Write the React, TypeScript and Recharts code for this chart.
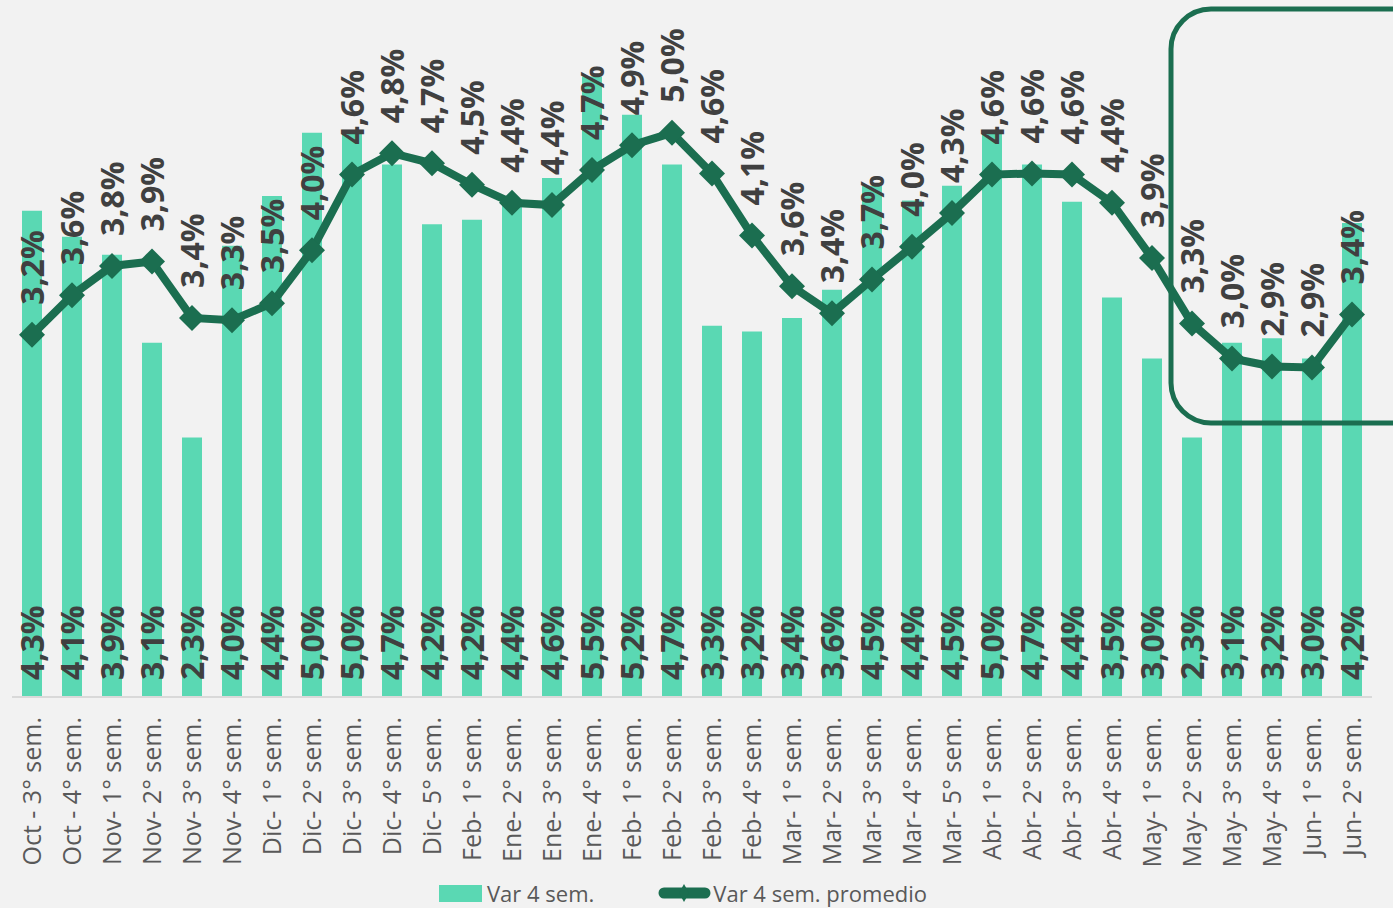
import React from 'react';
import { ComposedChart, Bar, Line, XAxis, YAxis, LabelList, Legend } from 'recharts';

const weeks = [
  'Oct - 3° sem.', 'Oct - 4° sem.', 'Nov- 1° sem.', 'Nov- 2° sem.', 'Nov- 3° sem.', 'Nov- 4° sem.',
  'Dic- 1° sem.', 'Dic- 2° sem.', 'Dic- 3° sem.', 'Dic- 4° sem.', 'Dic- 5° sem.', 'Feb- 1° sem.',
  'Ene- 2° sem.', 'Ene- 3° sem.', 'Ene- 4° sem.', 'Feb- 1° sem.', 'Feb- 2° sem.', 'Feb- 3° sem.',
  'Feb- 4° sem.', 'Mar- 1° sem.', 'Mar- 2° sem.', 'Mar- 3° sem.', 'Mar- 4° sem.', 'Mar- 5° sem.',
  'Abr- 1° sem.', 'Abr- 2° sem.', 'Abr- 3° sem.', 'Abr- 4° sem.', 'May- 1° sem.', 'May- 2° sem.',
  'May- 3° sem.', 'May- 4° sem.', 'Jun- 1° sem.', 'Jun- 2° sem.',
];

// Var 4 sem. (bars)
const var4 = [
  4.31, 4.08, 3.92, 3.14, 2.3, 4.0, 4.44, 5.0, 5.0, 4.72, 4.19, 4.23, 4.4, 4.6, 5.5, 5.16, 4.72,
  3.29, 3.24, 3.36, 3.61, 4.53, 4.4, 4.53, 5.0, 4.72, 4.39, 3.54, 3.0, 2.3, 3.14, 3.18, 3.0, 4.2,
];

// Var 4 sem. promedio (line)
const var4Prom = [
  3.21, 3.56, 3.82, 3.86, 3.36, 3.34, 3.49, 3.96, 4.63, 4.82, 4.73, 4.54, 4.38, 4.36, 4.67, 4.89, 5.0,
  4.64, 4.09, 3.64, 3.4, 3.7, 3.99, 4.29, 4.63, 4.64, 4.63, 4.38, 3.89, 3.31, 3.0, 2.93, 2.92, 3.39,
];

const data = weeks.map((w, i) => ({ idx: i, week: w, var4: var4[i], prom: var4Prom[i] }));

const BAR_COLOR = '#5ad8b3';
const LINE_COLOR = '#1b6e50';
const LABEL_COLOR = '#404040';
const FONT = '"Open Sans", sans-serif';

const pct = (v: number) => v.toFixed(1).replace('.', ',') + '%';

const BarLabel = (props: any) => {
  const { x, y, width, height, value } = props;
  const cx = x + width / 2;
  const base = y + height - 17;
  return (
    <text x={cx} y={base} dy="0.36em" transform={`rotate(-90, ${cx}, ${base})`} textAnchor="start"
      fontFamily={FONT} fontWeight={700} fontSize={32} fill={LABEL_COLOR}>
      {pct(value)}
    </text>
  );
};

const LineLabel = (props: any) => {
  const { x, y, value } = props;
  const ty = y - 30;
  return (
    <text x={x} y={ty} dy="0.36em" transform={`rotate(-90, ${x}, ${ty})`} textAnchor="start"
      fontFamily={FONT} fontWeight={700} fontSize={32} fill={LABEL_COLOR}>
      {pct(value)}
    </text>
  );
};

const Diamond = (props: any) => {
  const { cx, cy, index } = props;
  const r = 13;
  return (
    <polygon key={`d-${index}`} points={`${cx},${cy - r} ${cx + r},${cy} ${cx},${cy + r} ${cx - r},${cy}`}
      fill={LINE_COLOR} />
  );
};

const WeekTick = (props: any) => {
  const { x, y, payload } = props;
  const ty = y + 12;
  return (
    <text x={x} y={ty} dy="0.36em" transform={`rotate(-90, ${x}, ${ty})`} textAnchor="end"
      fontFamily={FONT} fontSize={25} fill="#595959">
      {weeks[payload.value]}
    </text>
  );
};

const LegendBox = () => (
  <div style={{ display: 'flex', justifyContent: 'center', alignItems: 'center', gap: 64, paddingRight: 18,
    paddingTop: 6, fontFamily: FONT, fontSize: 22, color: '#595959', height: 36, boxSizing: 'border-box' }}>
    <div style={{ display: 'flex', alignItems: 'center', gap: 5 }}>
      <div style={{ width: 43, height: 17, background: BAR_COLOR }} />
      <span>Var 4 sem.</span>
    </div>
    <div style={{ display: 'flex', alignItems: 'center', gap: 2 }}>
      <svg width={53} height={20}>
        <line x1={6} y1={10} x2={47} y2={10} stroke={LINE_COLOR} strokeWidth={11} strokeLinecap="round" />
        <polygon points="26,1 31,10 26,19 21,10" fill={LINE_COLOR} />
      </svg>
      <span>Var 4 sem. promedio</span>
    </div>
  </div>
);

export default function App() {
  return (
    <div style={{ position: 'absolute', left: 0, top: 0, width: 1393, height: 908, background: '#f2f2f2', overflow: 'hidden' }}>
      <ComposedChart width={1393} height={908} data={data} margin={{ top: 20, right: 21, left: 12, bottom: 0 }}>
        <XAxis dataKey="idx" type="category" interval={0} tick={<WeekTick />} tickLine={false}
          axisLine={{ stroke: '#d9d9d9', strokeWidth: 2 }} height={175} />
        <YAxis hide domain={[0, 6]} />
        <Legend verticalAlign="bottom" height={36} content={<LegendBox />} />
        <Bar dataKey="var4" name="Var 4 sem." fill={BAR_COLOR} barSize={20} isAnimationActive={false}>
          <LabelList dataKey="var4" content={<BarLabel />} />
        </Bar>
        <Line dataKey="prom" name="Var 4 sem. promedio" stroke={LINE_COLOR} strokeWidth={8}
          dot={Diamond} activeDot={false} isAnimationActive={false}>
          <LabelList dataKey="prom" content={<LineLabel />} />
        </Line>
      </ComposedChart>
      <svg width={1393} height={908} style={{ position: 'absolute', left: 0, top: 0, pointerEvents: 'none' }}>
        <rect x={1171} y={9} width={260} height={414} rx={40} ry={40} fill="none" stroke={LINE_COLOR} strokeWidth={5} />
      </svg>
    </div>
  );
}
